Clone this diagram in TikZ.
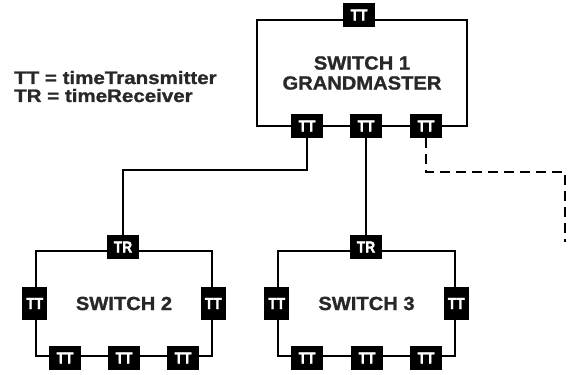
\documentclass[tikz,border=0pt]{standalone}
\usepackage{fontspec}
\setmainfont{Liberation Sans}
\newfontfamily\legendfont[FakeStretch=1.14, FakeBold=1.2]{Liberation Sans}
\newfontfamily\switchfont[FakeStretch=1.06, FakeBold=1.2]{Liberation Sans}
\newfontfamily\portfont[FakeStretch=0.86, FakeBold=1.5]{Liberation Sans}
\usepackage{tikz}
\definecolor{labelgray}{RGB}{40, 40, 40}

\tikzset{
  switchbox/.style={draw=black, line width=2.5pt, text=labelgray, align=center,
    font=\switchfont\bfseries\fontsize{19}{20}\selectfont},
  port/.style={fill=black, text=white, inner sep=0pt, minimum width=32pt,
    minimum height=24pt, font=\portfont\bfseries\fontsize{16}{16}\selectfont},
  sideport/.style={port, minimum width=25pt, minimum height=33pt},
  link/.style={draw=black, line width=2.5pt},
  legendtext/.style={anchor=base west, inner sep=0pt, text=labelgray,
    font=\legendfont\bfseries\fontsize{18}{18}\selectfont}
}

\begin{document}
\begin{tikzpicture}[x=1pt, y=-1pt]
  \useasboundingbox (0,0) rectangle (569,374);
  % legend
  \node[legendtext] (legendtt) at (14,84) {TT = timeTransmitter};
  \node[legendtext] (legendtr) at (14,102) {TR = timeReceiver};
  % switches
  \node[switchbox, minimum width=210pt, minimum height=106pt] (sw1) at (362,73) {SWITCH 1\\GRANDMASTER};
  \node[switchbox, minimum width=176pt, minimum height=105pt] (sw2) at (124,303.5) {SWITCH 2};
  \node[switchbox, minimum width=177pt, minimum height=105pt] (sw3) at (366.5,303.5) {SWITCH 3};
  % ports of switch 1
  \node[port] (s1top) at (359,15) {TT};
  \foreach \x/\n in {307/a,366/b,426/c} {
    \node[port] (s1\n) at (\x,126) {TT};
  }
  % ports of switch 2 and 3
  \node[port] (s2tr) at (123,247) {TR};
  \node[port] (s3tr) at (366,247) {TR};
  \node[sideport] (s2l) at (sw2.west) {TT};
  \node[sideport] (s2r) at (sw2.east) {TT};
  \node[sideport] (s3l) at (sw3.west) {TT};
  \node[sideport] (s3r) at (sw3.east) {TT};
  \foreach \x/\n in {65/a,124/b,183/c} {
    \node[port] (s2\n) at (\x,358) {TT};
  }
  \foreach \x/\n in {307/a,367/b,426/c} {
    \node[port] (s3\n) at (\x,358) {TT};
  }
  % links
  \coordinate (dashend) at (565,242);
  \draw[link] (s1a.south) -- ++(0,32) -| (s2tr.north);
  \draw[link] (s1b.south) -- (s3tr.north);
  \draw[link, dash pattern=on 10pt off 6pt] (s1c.south) -- ++(0,34) -| (dashend);
\end{tikzpicture}
\end{document}
